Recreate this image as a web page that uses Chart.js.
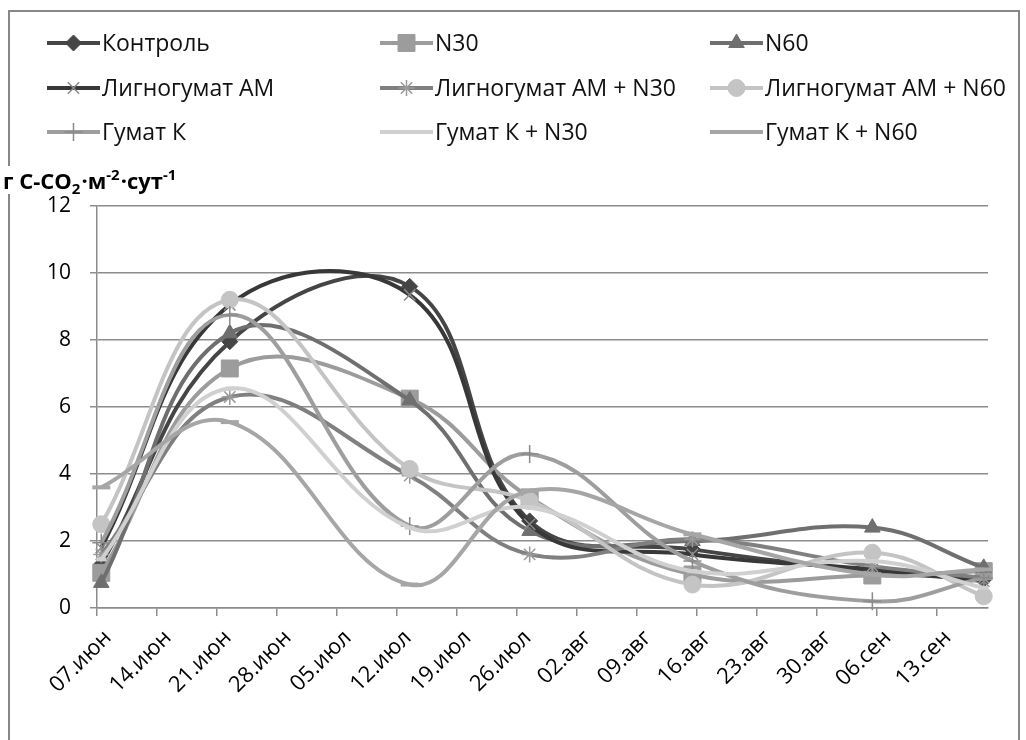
<!DOCTYPE html>
<html><head><meta charset="utf-8">
<script src="https://cdn.jsdelivr.net/npm/chart.js@4.4.1/dist/chart.umd.min.js"></script>
<style>html,body{margin:0;padding:0;background:#fff;overflow:hidden}</style>
</head><body>
<canvas id="c" width="1026" height="740"></canvas>
<script>
// x tick labels (weekly), days since 07.июн
const tickLabels = ['07.июн','14.июн','21.июн','28.июн','05.июл','12.июл','19.июл','26.июл','02.авг','09.авг','16.авг','23.авг','30.авг','06.сен','13.сен'];
// sampling dates as day offsets from 07.июн: 07.06, 22.06, 13.07, 27.07, 15.08, 05.09, 18.09
const sampleDays = [0, 15, 36, 50, 69, 90, 103];
const yTicks = [0, 2, 4, 6, 8, 10, 12];

const seriesNames = ['Контроль','N30','N60','Лигногумат АМ','Лигногумат АМ + N30','Лигногумат АМ + N60','Гумат К','Гумат К + N30','Гумат К + N60'];
const kontrol   = [1.3, 7.95, 9.6, 2.6, 1.75, 1.1, 0.85];
const n30       = [1.05, 7.15, 6.25, 3.3, 1.0, 0.97, 1.1];
const n60       = [0.75, 8.2, 6.2, 2.3, 2.0, 2.4, 1.2];
const lignoAM   = [1.8, 9.05, 9.35, 2.5, 1.6, 1.15, 0.8];
const lignoN30  = [1.6, 6.3, 3.95, 1.6, 2.05, 1.25, 0.9];
const lignoN60  = [2.5, 9.2, 4.15, 3.2, 0.7, 1.65, 0.35];
const gumatK    = [1.95, 8.75, 2.45, 4.6, 1.4, 0.2, 0.9];
const gumatKN30 = [1.45, 6.55, 2.4, 3.0, 1.1, 1.4, 0.6];
const gumatKN60 = [3.6, 5.55, 0.7, 3.5, 2.2, 1.0, 1.15];
const seriesValues = [kontrol, n30, n60, lignoAM, lignoN30, lignoN60, gumatK, gumatKN30, gumatKN60];

const styles = [
  {color:'#454545', mcolor:'#454545', ps:'rectRot', r:8, bw:1},
  {color:'#9c9c9c', mcolor:'#9c9c9c', ps:'rect', r:12, bw:1},
  {color:'#6f6f6f', mcolor:'#6f6f6f', ps:'triangle', r:9, bw:1},
  {color:'#383838', mcolor:'#8a8a8a', ps:'crossRot', r:8, bw:1.5},
  {color:'#808080', mcolor:'#9a9a9a', ps:'star', r:8, bw:1.5},
  {color:'#c4c4c4', mcolor:'#c4c4c4', ps:'circle', r:8.5, bw:1},
  {color:'#9e9e9e', mcolor:'#8a8a8a', ps:'cross', r:9, bw:1.5},
  {color:'#d0d0d0', mcolor:'#d0d0d0', ps:'line', r:5, bw:4},
  {color:'#a6a6a6', mcolor:'#a6a6a6', ps:'line', r:9, bw:4}
];

const FONT = "'Open Sans', 'Noto Sans', sans-serif";

const datasets = seriesValues.map((vals, i) => ({
  label: seriesNames[i],
  data: vals.map((v, j) => ({x: sampleDays[j], y: v})),
  borderColor: styles[i].color,
  backgroundColor: styles[i].mcolor,
  borderWidth: 4,
  tension: 0.4,
  pointStyle: styles[i].ps,
  pointRadius: styles[i].r,
  pointHoverRadius: styles[i].r,
  pointBackgroundColor: styles[i].mcolor,
  pointBorderColor: styles[i].mcolor,
  pointBorderWidth: styles[i].bw,
  order: seriesValues.length - i,
  clip: 12
}));

const framePlugin = {
  id: 'frame',
  beforeDraw(chart) {
    const ctx = chart.ctx;
    ctx.save();
    ctx.fillStyle = '#fff';
    ctx.fillRect(0, 0, chart.width, chart.height);
    ctx.strokeStyle = '#878787';
    ctx.lineWidth = 2;
    ctx.strokeRect(9, 11, 1010, 740);
    ctx.restore();
  },
  afterDraw(chart) {
    const ctx = chart.ctx;
    ctx.save();
    // legend
    const colX = [47, 380, 710];
    const rowY = [43, 88, 132];
    chart.data.datasets.forEach((ds, i) => {
      const x0 = colX[i % 3], y = rowY[Math.floor(i / 3)];
      const st = styles[i];
      ctx.strokeStyle = st.color;
      ctx.lineWidth = 4;
      ctx.beginPath(); ctx.moveTo(x0, y); ctx.lineTo(x0 + 53, y); ctx.stroke();
      ctx.fillStyle = st.mcolor; ctx.strokeStyle = st.mcolor;
      ctx.lineWidth = st.bw;
      Chart.helpers.drawPoint(ctx, {pointStyle: st.ps, radius: st.r, rotation: 0, borderWidth: st.bw}, x0 + 26.5, y);
      ctx.fillStyle = '#111';
      ctx.font = '23px ' + FONT;
      ctx.textBaseline = 'middle';
      ctx.textAlign = 'left';
      ctx.fillText(ds.label, x0 + 55, y + 1);
    });
    // y-axis title with sub/superscripts
    ctx.fillStyle = '#fff';
    ctx.fillRect(2, 166, 205, 28);
    const parts = [
      ['г С-CO', 0], ['2', 5], ['·м', 0], ['-2', -9], ['·сут', 0], ['-1', -9]
    ];
    let x = 3; const base = 189;
    ctx.fillStyle = '#000';
    ctx.textBaseline = 'alphabetic';
    parts.forEach(([t, dy]) => {
      ctx.font = (dy === 0 ? 'bold 22px ' : 'bold 15px ') + FONT;
      ctx.fillText(t, x, base + dy);
      x += ctx.measureText(t).width + (dy === 0 ? 0 : 1);
    });
    ctx.restore();
  }
};

new Chart(document.getElementById('c'), {
  type: 'line',
  data: { datasets },
  options: {
    responsive: false,
    animation: false,
    devicePixelRatio: 1,
    layout: { padding: { top: 206, right: 38, left: 0, bottom: 0 } },
    plugins: { legend: { display: false }, tooltip: { enabled: false }, title: { display: false } },
    scales: {
      x: {
        type: 'linear',
        min: -0.5, max: 103.5,
        afterBuildTicks(scale) { scale.ticks = tickLabels.map((_, k) => ({ value: k * 7 - 0.5 })); },
        afterFit(scale) { scale.height = 132; },
        ticks: {
          autoSkip: false, minRotation: 45, maxRotation: 45, padding: 9, labelOffset: 11,
          color: '#000', font: { family: FONT, size: 22 },
          callback: (v) => tickLabels[Math.round((v + 0.5) / 7)]
        },
        grid: { drawOnChartArea: false, drawTicks: true, tickLength: 8, color: '#8c8c8c', lineWidth: 1.5 },
        border: { display: true, color: '#8c8c8c', width: 1.5 }
      },
      y: {
        min: 0, max: 12,
        afterBuildTicks(scale) { scale.ticks = yTicks.map(v => ({ value: v })); },
        afterFit(scale) { scale.width = 97; },
        ticks: { color: '#000', font: { family: FONT, size: 21 }, padding: 19 },
        grid: { color: '#8c8c8c', lineWidth: 1.5, tickLength: 7, drawTicks: true },
        border: { display: true, color: '#8c8c8c', width: 1.5 }
      }
    }
  },
  plugins: [framePlugin]
});
</script>
</body></html>
